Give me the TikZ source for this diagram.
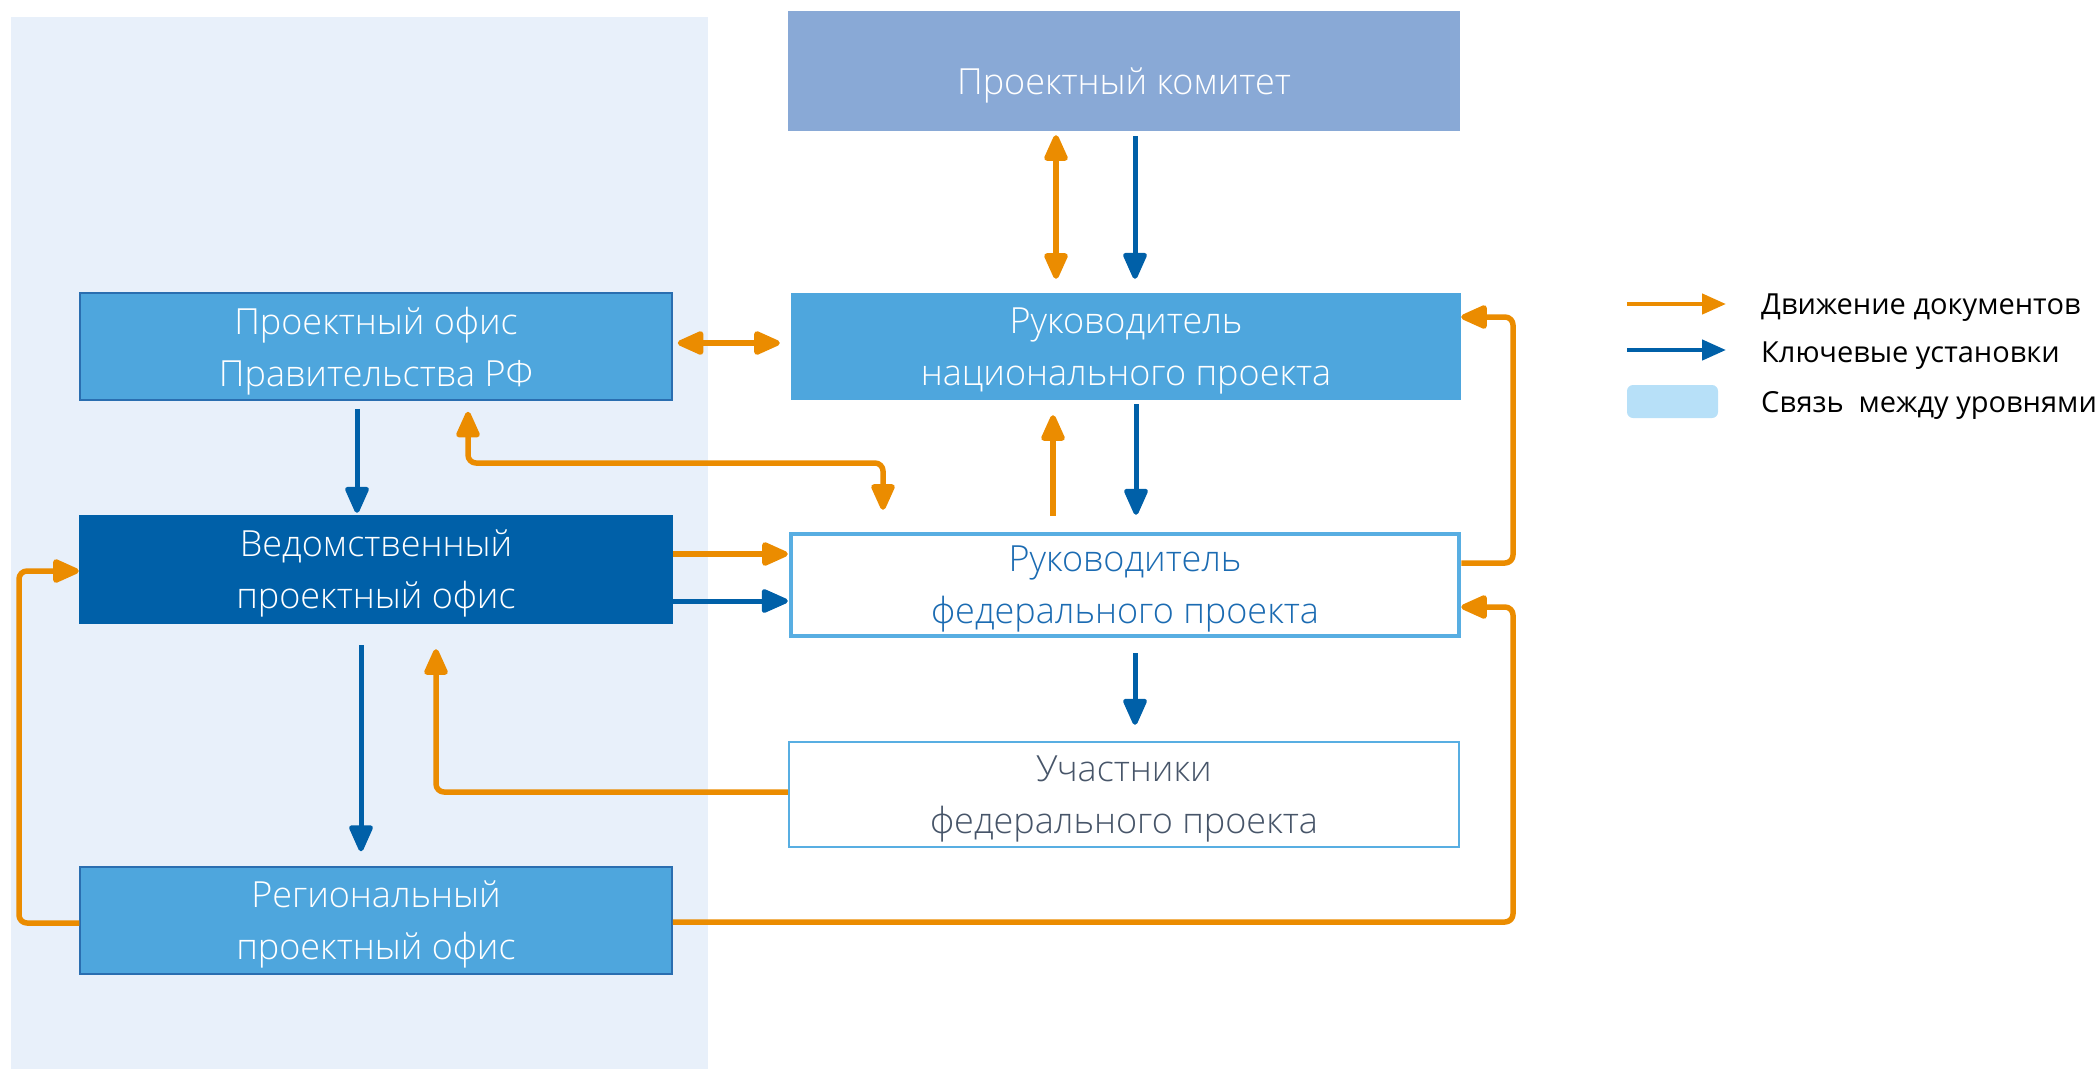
\documentclass[tikz,border=0pt]{standalone}
\usepackage{fontspec}
\setmainfont{Open Sans}
\newfontfamily\boxfont{Open Sans}[UprightFont=* Light]
\usetikzlibrary{arrows.meta}
\definecolor{panel}{HTML}{E8F0FA}
\definecolor{komblue}{HTML}{89A9D6}
\definecolor{midblue}{HTML}{4EA6DD}
\definecolor{darkblue}{HTML}{0060A8}
\definecolor{edgeblue}{HTML}{2A6EB0}
\definecolor{lightedge}{HTML}{58AEE2}
\definecolor{orangec}{HTML}{EB8C00}
\definecolor{fedtext}{HTML}{1B6BB2}
\definecolor{uchtext}{HTML}{475569}
\definecolor{legblue}{HTML}{B7E0F8}
\tikzset{
  box/.style={rectangle, inner sep=0pt, align=center,
    font=\boxfont\fontsize{36}{52}\selectfont, text depth=-3pt},
  Tri/.tip={Triangle[length=30pt,width=25pt,round]},
  oarr/.style={draw=orangec, line width=5.5pt, line join=round},
  barr/.style={draw=darkblue, line width=5pt},
  legtext/.style={anchor=west, inner sep=0pt, text=black,
    font=\fontsize{29}{34}\selectfont}
}
\begin{document}
\begin{tikzpicture}[x=1pt,y=-1pt]
\useasboundingbox (0,0) rectangle (2098,1069);
\fill[panel] (11,17) rectangle (708,1069);

% nodes
\node[box, fill=komblue, text=white, minimum width=672, minimum height=120,
  execute at begin node={\rule{0pt}{46pt}}, text depth=0pt]
  (kom) at (1124,71) {Проектный комитет};
\node[box, fill=midblue, text=white, minimum width=670, minimum height=107]
  (nats) at (1126,346.5) {Руководитель\\национального проекта};
\node[box, fill=midblue, draw=edgeblue, line width=1.5pt, text=white, minimum width=592, minimum height=107]
  (prav) at (376,346.5) {Проектный офис\\Правительства РФ};
\node[box, fill=darkblue, text=white, minimum width=594, minimum height=109]
  (ved) at (376,569.5) {Ведомственный\\проектный офис};
\node[box, fill=white, draw=lightedge, line width=4.5pt, text=fedtext, minimum width=668, minimum height=102]
  (fed) at (1125,585) {Руководитель\\федерального проекта};
\node[box, fill=white, draw=lightedge, line width=2.5pt, text=uchtext, minimum width=670, minimum height=105]
  (uch) at (1124,794.5) {Участники\\федерального проекта};
\node[box, fill=midblue, draw=edgeblue, line width=1.5pt, text=white, minimum width=592, minimum height=107]
  (reg) at (376,920.5) {Региональный\\проектный офис};

% helper coordinates
\coordinate (rx) at (1513,0);
\coordinate (lx) at (19,0);
\coordinate (my) at (0,463);

% komitet <-> nats
\draw[oarr, {Tri}-{Tri}, shorten <=4pt, shorten >=14pt] ([xshift=-68pt]kom.south) -- ([xshift=-68pt]kom.south |- nats.north);
\draw[barr, -{Tri}, shorten <=5pt, shorten >=14pt] ([xshift=11pt]kom.south) -- ([xshift=11pt]kom.south |- nats.north);

% prav <-> nats
\draw[oarr, {Tri}-{Tri}, shorten <=5pt, shorten >=11pt] ([yshift=3.5pt]prav.east) -- ([yshift=3.5pt]prav.east -| nats.west);

% prav -> ved
\draw[barr, -{Tri}, shorten <=8pt, shorten >=2pt] ([xshift=-19pt]prav.south) -- ([xshift=-19pt]prav.south |- ved.north);

% prav <-> fed
\coordinate (pa) at ([xshift=92pt]prav.south);
\coordinate (fb) at ([xshift=-242pt]fed.north);
\draw[oarr, rounded corners=8pt, {Tri}-{Tri}, shorten <=11pt, shorten >=22pt] (pa) |- (fb |- my) -- (fb);

% fed -> nats (orange), nats -> fed (blue)
\draw[oarr, -{Tri}, shorten <=16pt, shorten >=15pt] ([xshift=-72pt]fed.north) -- ([xshift=-72pt]fed.north |- nats.south);
\draw[barr, -{Tri}, shorten <=4pt, shorten >=17pt] ([xshift=10pt]nats.south) -- ([xshift=10pt]nats.south |- fed.north);

% ved -> fed
\draw[oarr, -{Tri}, shorten >=1pt] ([yshift=15.5pt]ved.east) -- ([yshift=15.5pt]ved.east -| fed.west);
\draw[barr, -{Tri}, shorten >=1pt] ([yshift=-31.5pt]ved.east) -- ([yshift=-31.5pt]ved.east -| fed.west);

% ved -> reg
\draw[barr, -{Tri}, shorten <=21pt, shorten >=15pt] ([xshift=-15pt]ved.south) -- ([xshift=-15pt]ved.south |- reg.north);

% uch -> ved
\draw[oarr, rounded corners=8pt, -{Tri}, shorten >=25pt] ([yshift=2.5pt]uch.west) -| ([xshift=60pt]ved.south);

% fed -> uch
\draw[barr, -{Tri}, shorten <=15pt, shorten >=16pt] ([xshift=10pt]fed.south) -- ([xshift=10pt]fed.south |- uch.north);

% fed -> nats (right loop)
\coordinate (f1) at ([yshift=22pt]fed.east);
\coordinate (n1) at ([yshift=29.5pt]nats.east);
\draw[oarr, rounded corners=8pt, -{Tri}] (f1) -| (rx |- n1) -- (n1);

% reg -> fed (right loop)
\coordinate (r1) at ([yshift=-1.5pt]reg.east);
\coordinate (f2) at ([yshift=-22pt]fed.east);
\draw[oarr, rounded corners=8pt, -{Tri}] (r1) -| (rx |- f2) -- (f2);

% reg -> ved (left loop)
\coordinate (r2) at ([yshift=-2.5pt]reg.west);
\coordinate (v2) at ([yshift=-1.5pt]ved.west);
\draw[oarr, rounded corners=8pt, -{Tri}] (r2) -| (lx |- v2) -- (v2);

% legend
\coordinate (lo1) at (1627,304);
\coordinate (lo2) at (1726,304);
\coordinate (lb1) at (1627,350);
\coordinate (lb2) at (1726,350);
\draw[oarr, line width=4.5pt, -{Triangle[length=24pt,width=20pt]}] (lo1) -- (lo2);
\draw[barr, line width=4.5pt, -{Triangle[length=24pt,width=20pt]}] (lb1) -- (lb2);
\node[fill=legblue, rounded corners=6pt, minimum width=91pt, minimum height=33pt, inner sep=0pt] (lrect) at (1672.5,401.5) {};
\node[legtext] (lt1) at (1761,308) {Движение документов};
\node[legtext] (lt2) at (1761,356) {Ключевые установки};
\node[legtext] (lt3) at (1761,405) {Связь\hspace{0.25em} между уровнями};
\end{tikzpicture}
\end{document}
